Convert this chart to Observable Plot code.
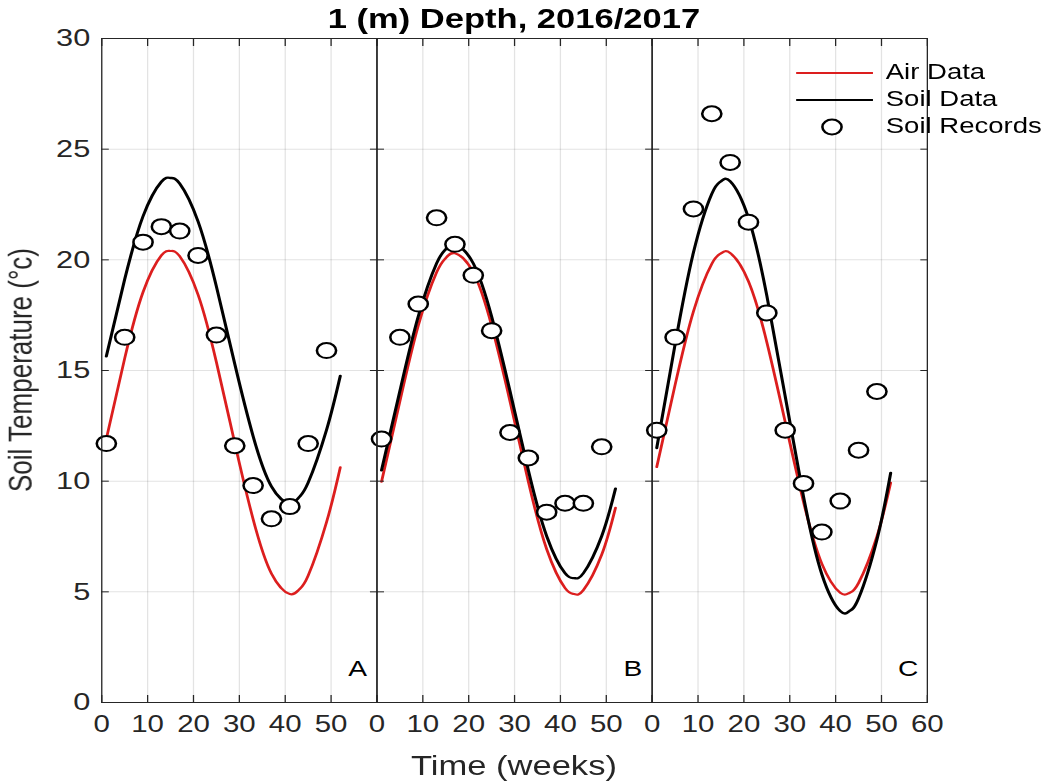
<!DOCTYPE html>
<html>
<head>
<meta charset="utf-8">
<script src="https://cdn.jsdelivr.net/npm/d3@7"></script>
<script src="https://cdn.jsdelivr.net/npm/@observablehq/plot@0.6"></script>
<style>
html, body { margin: 0; padding: 0; background: #fff; overflow: hidden; }
#wrap { position: absolute; left: 0; top: 0; width: 821px; height: 784px; transform: scaleX(1.28); transform-origin: 0 0; }
</style>
</head>
<body>
<div id="wrap"></div>
<script>
// ---- data ----
const panels = ["A", "B", "C"];
const seriesNames = ["Air Data", "Soil Data", "Soil Records"];
const titleText = "1 (m) Depth, 2016/2017";
const xLabel = "Time (weeks)";
const yLabel = "Soil Temperature (°c)";

const curveWeeks = [1, 5, 9, 13, 15, 17, 21, 25, 29, 33, 37, 41, 43, 45, 49, 52];
const airA  = [11.91, 15.55, 18.54, 20.20, 20.40, 20.16, 18.42, 15.37, 11.72, 8.28, 5.82, 4.90, 5.10, 5.73, 8.14, 10.62];
const soilA = [15.64, 19.12, 21.97, 23.53, 23.70, 23.44, 21.73, 18.79, 15.29, 12.03, 9.76, 9.00, 9.27, 9.93, 12.31, 14.75];
const airB  = [9.98, 13.61, 17.02, 19.43, 20.08, 20.30, 19.43, 17.02, 13.61, 9.98, 6.93, 5.17, 4.90, 5.08, 6.68, 8.79];
const soilB = [10.49, 14.07, 17.44, 19.84, 20.48, 20.70, 19.84, 17.44, 14.07, 10.49, 7.52, 5.84, 5.62, 5.84, 7.52, 9.66];
const airC  = [10.64, 14.35, 17.67, 19.82, 20.29, 20.31, 19.03, 16.28, 12.68, 9.06, 6.27, 4.96, 4.95, 5.40, 7.50, 9.93];
const soilC = [11.50, 16.18, 20.33, 22.98, 23.55, 23.55, 21.89, 18.38, 13.84, 9.30, 5.79, 4.13, 4.13, 4.70, 7.35, 10.37];

const recordWeeks = [1, 5, 9, 13, 17, 21, 25, 29, 33, 37, 41, 45, 49];
const recA = [11.7, 16.5, 20.8, 21.5, 21.3, 20.2, 16.6, 11.6, 9.8, 8.3, 8.85, 11.7, 15.9];
const recB = [11.9, 16.5, 18.0, 21.9, 20.7, 19.3, 16.8, 12.2, 11.05, 8.6, 9.0, 9.0, 11.55];
const recC = [12.3, 16.5, 22.3, 26.6, 24.4, 21.7, 17.6, 12.3, 9.9, 7.7, 9.1, 11.4, 14.05];

const xTicksAB = [0, 10, 20, 30, 40, 50];
const xTicksC = [0, 10, 20, 30, 40, 50, 60];
const yTicks = [0, 5, 10, 15, 20, 25, 30];

// ---- tables built from the arrays ----
const airAll = [airA, airB, airC];
const soilAll = [soilA, soilB, soilC];
const recAll = [recA, recB, recC];
const airRows = panels.flatMap((p, i) => curveWeeks.map((w, j) => ({panel: p, week: w, temp: airAll[i][j]})));
const soilRows = panels.flatMap((p, i) => curveWeeks.map((w, j) => ({panel: p, week: w, temp: soilAll[i][j]})));
const recRows = panels.flatMap((p, i) => recordWeeks.map((w, j) => ({panel: p, week: w, temp: recAll[i][j]})));
const xLabelRows = panels.flatMap(p => (p === "C" ? xTicksC : xTicksAB).map(t => ({panel: p, tick: t})));

// ---- style ----
const W = 821, H = 784;
const mL = 78, mR = W - 725, mT = 38, mB = 82;
const ink = "#262626";
const red = "#dc1e1e";
const font = "'Liberation Sans', Arial, Helvetica, sans-serif";

const chart = Plot.plot({
  width: W,
  height: H,
  marginLeft: mL,
  marginRight: mR,
  marginTop: mT,
  marginBottom: mB,
  style: {fontFamily: font, color: ink, background: "white", overflow: "visible"},
  fx: {domain: panels, padding: 0, axis: null},
  x: {domain: [0, 60]},
  y: {domain: [0, 30]},
  marks: [
    Plot.gridX({ticks: xTicksC, stroke: "#000", strokeOpacity: 0.11}),
    Plot.gridY({ticks: yTicks, stroke: "#000", strokeOpacity: 0.11}),
    Plot.line(airRows, {fx: "panel", x: "week", y: "temp", stroke: red, strokeWidth: 2.2, curve: "natural"}),
    Plot.line(soilRows, {fx: "panel", x: "week", y: "temp", stroke: "#000", strokeWidth: 2.4, curve: "natural"}),
    Plot.dot(recRows, {fx: "panel", x: "week", y: "temp", r: 7.5, stroke: "#000", strokeWidth: 2, fill: "white"}),
    Plot.frame({stroke: ink, strokeWidth: 1}),
    Plot.axisX({anchor: "bottom", facetAnchor: null, ticks: xTicksC, tickSize: -7, fill: "none", stroke: ink, label: null}),
    Plot.axisX({anchor: "top", facetAnchor: null, ticks: xTicksC, tickSize: -7, fill: "none", stroke: ink, label: null}),
    Plot.axisY({anchor: "left", facetAnchor: null, ticks: yTicks, tickSize: -6, fill: "none", stroke: ink, label: null}),
    Plot.axisY({anchor: "right", facetAnchor: null, ticks: yTicks, tickSize: -6, fill: "none", stroke: ink, label: null}),
    Plot.axisY({anchor: "left", ticks: yTicks, tickSize: 0, tickPadding: 9, fontSize: 24, fill: ink, label: null}),
    Plot.text(xLabelRows, {fx: "panel", x: "tick", text: d => String(d.tick), frameAnchor: "bottom", dy: 29, fontSize: 23, fill: ink}),
    Plot.text(panels, {fx: d => d, text: d => d, frameAnchor: "bottom-right", textAnchor: "middle", dx: -15, dy: -27, fontSize: 22, fill: "#000"})
  ]
});

document.getElementById("wrap").appendChild(chart);

// ---- titles and legend ----
const svg = d3.select(chart);
const cx = (mL + (W - mR)) / 2;
svg.append("text")
  .attr("x", cx).attr("y", 28)
  .attr("text-anchor", "middle")
  .attr("font-family", font).attr("font-size", 27).attr("font-weight", "bold")
  .attr("fill", "#000")
  .text(titleText);
svg.append("text")
  .attr("x", cx).attr("y", 775)
  .attr("text-anchor", "middle")
  .attr("font-family", font).attr("font-size", 27)
  .attr("fill", ink)
  .text(xLabel);
svg.append("text")
  .attr("transform", `translate(18,${(mT + H - mB) / 2}) rotate(-90)`)
  .attr("text-anchor", "middle")
  .attr("dominant-baseline", "middle")
  .attr("font-family", font).attr("font-size", 26)
  .attr("fill", ink)
  .text(yLabel);

const legend = svg.append("g")
  .attr("font-family", font).attr("font-size", 21.5).attr("fill", "#000")
  .attr("text-anchor", "start");
const legendY = [73, 100, 127];
seriesNames.forEach((name, i) => {
  const g = legend.append("g").attr("transform", `translate(0,${legendY[i]})`);
  if (i < 2) {
    g.append("line").attr("x1", 622).attr("x2", 682).attr("y1", 0).attr("y2", 0)
      .attr("stroke", i === 0 ? red : "#000").attr("stroke-width", 2.2);
  } else {
    g.append("circle").attr("cx", 650).attr("cy", 0).attr("r", 7.5)
      .attr("fill", "white").attr("stroke", "#000").attr("stroke-width", 2);
  }
  g.append("text").attr("x", 692).attr("y", 0)
    .attr("text-anchor", "start").attr("dominant-baseline", "middle").text(name);
});
</script>
</body>
</html>
